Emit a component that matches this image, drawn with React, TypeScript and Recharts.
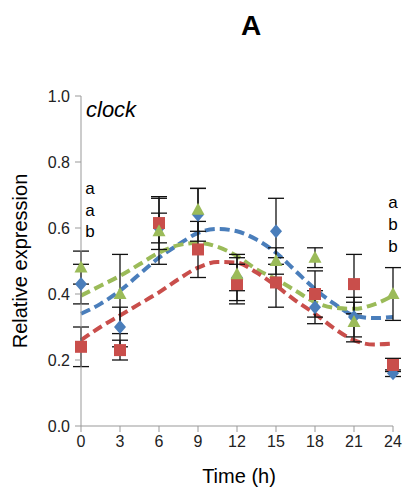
import { ComposedChart, Line, Scatter, XAxis, YAxis, ErrorBar } from 'recharts';

const times = [0, 3, 6, 9, 12, 15, 18, 21, 24];
const blueValues = [0.43, 0.3, 0.6, 0.64, 0.45, 0.59, 0.36, 0.33, 0.16];
const blueErrors = [0.06, 0.06, 0.045, 0.08, 0.07, 0.1, 0.05, 0.06, 0.01];
const redValues = [0.24, 0.23, 0.615, 0.535, 0.43, 0.435, 0.4, 0.43, 0.185];
const redErrors = [0.06, 0.03, 0.08, 0.085, 0.06, 0.075, 0.07, 0.09, 0.02];
const greenValues = [0.48, 0.4, 0.59, 0.655, 0.46, 0.5, 0.51, 0.315, 0.4];
const greenErrors = [0.05, 0.12, 0.1, 0.065, 0.05, 0.04, 0.03, 0.06, 0.08];

// fitted curves, every 1.5 h
const curveTimes = [0, 1.5, 3, 4.5, 6, 7.5, 9, 10.5, 12, 13.5, 15, 16.5, 18, 19.5, 21, 22.5, 24];
const blueFit = [0.34, 0.37, 0.41, 0.46, 0.51, 0.55, 0.585, 0.597, 0.59, 0.565, 0.525, 0.47, 0.415, 0.37, 0.335, 0.327, 0.33];
const greenFit = [0.395, 0.425, 0.455, 0.49, 0.525, 0.548, 0.555, 0.543, 0.515, 0.475, 0.445, 0.41, 0.375, 0.358, 0.355, 0.368, 0.395];
const redFit = [0.26, 0.3, 0.335, 0.37, 0.405, 0.445, 0.48, 0.497, 0.495, 0.465, 0.425, 0.38, 0.34, 0.295, 0.26, 0.247, 0.25];

const yTicks = [0, 0.2, 0.4, 0.6, 0.8, 1.0];
const leftLetters = ['a', 'a', 'b'];
const rightLetters = ['a', 'b', 'b'];

const BLUE = '#4a7ebb';
const RED = '#c94e4b';
const GREEN = '#9bbb59';
const FONT = '"Liberation Sans", Arial, sans-serif';

const curveData = curveTimes.map((t, i) => ({ t, blue: blueFit[i], green: greenFit[i], red: redFit[i] }));
const points = (vals: number[], errs: number[]) => times.map((t, i) => ({ t, v: vals[i], e: errs[i] }));

const Diamond = (p: any) => (
  <path d={`M${p.cx},${p.cy - 7} L${p.cx + 6},${p.cy} L${p.cx},${p.cy + 7} L${p.cx - 6},${p.cy} Z`} fill={BLUE} />
);
const Square = (p: any) => <rect x={p.cx - 6} y={p.cy - 6} width={12} height={12} fill={RED} />;
const Triangle = (p: any) => (
  <path d={`M${p.cx},${p.cy - 7} L${p.cx + 6.5},${p.cy + 5} L${p.cx - 6.5},${p.cy + 5} Z`} fill={GREEN} />
);

const tickStyle = { fontSize: 16, fill: '#222', fontFamily: FONT };

export default function App() {
  return (
    <div style={{ position: 'absolute', left: 0, top: 0, width: 405, height: 495, background: '#fff' }}>
      <ComposedChart width={405} height={495} data={curveData} margin={{ top: 96, right: 12, bottom: 0, left: 0 }}>
        <XAxis
          type="number"
          dataKey="t"
          domain={[0, 24]}
          ticks={times}
          height={69}
          tickSize={6}
          stroke="#999"
          tick={tickStyle}
          tickMargin={4}
        />
        <YAxis
          type="number"
          domain={[0, 1]}
          ticks={yTicks}
          width={81}
          tickSize={6}
          stroke="#999"
          tick={tickStyle}
          tickMargin={5}
          tickFormatter={(v: number) => v.toFixed(1)}
        />
        <Line dataKey="blue" type="monotone" stroke={BLUE} strokeWidth={4} strokeDasharray="10 5" dot={false} isAnimationActive={false} />
        <Line dataKey="green" type="monotone" stroke={GREEN} strokeWidth={4} strokeDasharray="10 5" dot={false} isAnimationActive={false} />
        <Line dataKey="red" type="monotone" stroke={RED} strokeWidth={4} strokeDasharray="10 5" dot={false} isAnimationActive={false} />
        <Scatter data={points(blueValues, blueErrors)} dataKey="v" shape={Diamond} isAnimationActive={false}>
          <ErrorBar dataKey="e" direction="y" width={8} stroke="#111" strokeWidth={1.3} />
        </Scatter>
        <Scatter data={points(redValues, redErrors)} dataKey="v" shape={Square} isAnimationActive={false}>
          <ErrorBar dataKey="e" direction="y" width={8} stroke="#111" strokeWidth={1.3} />
        </Scatter>
        <Scatter data={points(greenValues, greenErrors)} dataKey="v" shape={Triangle} isAnimationActive={false}>
          <ErrorBar dataKey="e" direction="y" width={8} stroke="#111" strokeWidth={1.3} />
        </Scatter>
      </ComposedChart>
      <svg width={405} height={495} style={{ position: 'absolute', left: 0, top: 0, pointerEvents: 'none' }}>
        <text x={251} y={35} textAnchor="middle" fontFamily={FONT} fontWeight="bold" fontSize={28} fill="#000">A</text>
        <text x={86} y={117} fontFamily={FONT} fontStyle="italic" fontSize={22} fill="#000">clock</text>
        {leftLetters.map((l, i) => (
          <text key={'l' + i} x={90} y={194 + i * 21.5} textAnchor="middle" fontFamily={FONT} fontSize={17} fill="#000">{l}</text>
        ))}
        {rightLetters.map((l, i) => (
          <text key={'r' + i} x={393} y={208 + i * 22} textAnchor="middle" fontFamily={FONT} fontSize={17} fill="#000">{l}</text>
        ))}
        <text x={239} y={483} textAnchor="middle" fontFamily={FONT} fontSize={20} fill="#000">Time (h)</text>
        <text x={27} y={261} textAnchor="middle" transform="rotate(-90 27 261)" fontFamily={FONT} fontSize={20} fill="#000">Relative expression</text>
      </svg>
    </div>
  );
}
